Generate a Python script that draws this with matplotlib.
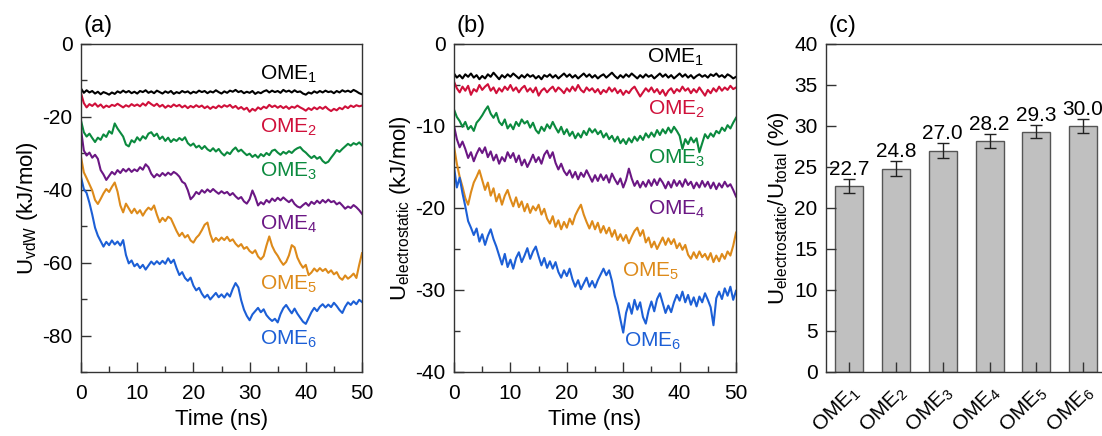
import numpy as np
import matplotlib
matplotlib.use('Agg')
import matplotlib.pyplot as plt
from matplotlib.ticker import MultipleLocator

plt.rcParams['font.family'] = ['Liberation Sans', 'DejaVu Sans']
plt.rcParams['mathtext.default'] = 'regular'
plt.rcParams['axes.unicode_minus'] = False
plt.rcParams['axes.linewidth'] = 1.0
plt.rcParams['axes.edgecolor'] = '#333333'

# time grid of the trajectories (ns), one frame every 0.5 ns
time = np.linspace(0, 50, 101)

names = ['OME$_1$', 'OME$_2$', 'OME$_3$', 'OME$_4$', 'OME$_5$', 'OME$_6$']
colors = ['#000000', '#d0103a', '#0b8a3e', '#6b1784', '#dd8a1a', '#1c5fd6']

# van der Waals interaction energy (kJ/mol)
vdw_1 = [-12.2, -13.4, -12.7, -13.3, -12.9, -13.6, -13.1, -13.8, -13.2, -13.5,
         -13.9, -13.3, -13.7, -13.0, -13.4, -12.8, -13.3, -12.9, -13.5, -13.1,
         -13.6, -12.9, -13.2, -12.7, -13.4, -13.0, -13.5, -12.8, -13.2, -13.6,
         -13.0, -13.4, -12.9, -13.7, -13.2, -13.5, -12.9, -13.3, -13.0, -13.6,
         -13.1, -13.4, -12.8, -13.2, -12.9, -13.5, -13.0, -13.3, -12.7, -13.2,
         -13.6, -13.0, -13.4, -12.8, -13.1, -12.6, -13.2, -12.9, -13.5, -13.1,
         -13.4, -12.9, -13.7, -13.2, -13.5, -13.0, -12.7, -13.3, -12.8, -13.2,
         -12.9, -13.4, -12.6, -13.1, -12.8, -13.3, -12.7, -13.2, -13.0, -13.6,
         -13.9, -13.3, -13.6, -13.0, -13.4, -12.9, -13.3, -12.8, -13.2, -13.0,
         -13.5, -12.9, -13.3, -12.7, -13.1, -12.8, -13.2, -12.6, -13.0, -13.5,
         -13.8]
vdw_2 = [-13.5, -16.2, -17.4, -16.5, -17.0, -16.3, -17.2, -16.6, -17.5, -16.9,
         -17.3, -16.7, -17.0, -16.4, -16.9, -17.4, -16.8, -17.2, -16.5, -17.0,
         -16.6, -17.1, -16.3, -16.9, -15.9, -16.5, -17.0, -16.4, -17.2, -16.7,
         -17.5, -16.9, -17.3, -16.6, -17.1, -16.7, -17.4, -16.9, -17.6, -17.0,
         -17.4, -16.8, -17.3, -16.9, -17.6, -17.1, -17.8, -17.2, -17.6, -16.9,
         -17.4, -16.8, -17.2, -16.7, -17.5, -17.0, -17.8, -17.3, -18.0, -17.5,
         -18.6, -17.8, -18.3, -17.4, -17.9, -17.2, -17.6, -16.7, -17.3, -16.9,
         -17.5, -17.0, -17.6, -17.1, -17.8, -17.2, -17.5, -16.9, -17.4, -17.8,
         -18.3, -17.6, -18.1, -17.4, -17.9, -17.3, -17.8, -17.2, -17.9, -18.4,
         -17.8, -18.2, -17.5, -17.9, -17.1, -17.6, -16.9, -17.3, -16.8, -17.1,
         -16.9]
vdw_3 = [-21.0, -24.2, -25.4, -24.6, -25.8, -26.9, -25.7, -26.3, -24.8, -25.5,
         -23.9, -24.6, -21.8, -23.2, -24.3, -25.4, -27.6, -28.1, -26.4, -27.0,
         -25.6, -26.5, -25.3, -26.0, -24.6, -24.2, -25.3, -24.6, -26.1, -25.4,
         -26.6, -25.7, -26.9, -26.1, -26.6, -25.8, -26.4, -25.6, -27.2, -27.9,
         -27.3, -28.4, -27.9, -28.8, -28.0, -28.9, -29.4, -28.6, -29.5, -28.8,
         -29.9, -30.6, -29.7, -30.2, -29.1, -28.4, -29.5, -29.0, -29.8, -30.5,
         -30.1, -31.0, -30.4, -31.2, -30.2, -30.8, -29.9, -30.5, -29.3, -29.0,
         -29.8, -30.4, -29.6, -30.1, -29.4, -29.9, -29.1, -28.6, -28.3, -29.2,
         -29.8, -30.6, -31.3, -30.7, -31.5, -31.0, -32.1, -32.7, -32.3, -31.2,
         -30.2, -29.1, -29.6, -28.8, -28.1, -27.4, -27.9, -27.2, -27.6, -27.0,
         -27.8]
vdw_4 = [-23.5, -29.2, -30.6, -29.8, -31.2, -30.4, -31.5, -34.6, -35.8, -37.3,
         -36.2, -35.1, -35.8, -34.6, -35.4, -34.3, -35.0, -34.2, -35.1, -34.4,
         -34.9, -33.8, -34.5, -33.0, -33.8, -35.6, -36.6, -35.7, -36.3, -35.4,
         -36.1, -35.3, -35.9, -35.1, -35.6, -36.4, -37.8, -38.3, -40.1, -42.6,
         -41.8, -40.6, -41.2, -40.1, -40.8, -39.9, -40.6, -39.8, -40.5, -41.1,
         -40.4, -41.0, -40.6, -41.5, -40.9, -41.8, -42.5, -42.0, -43.2, -43.8,
         -42.6, -40.2, -42.0, -44.3, -43.4, -44.0, -42.8, -43.5, -42.4, -43.1,
         -42.2, -42.9, -42.1, -42.8, -43.4, -42.7, -43.9, -44.6, -44.9, -44.2,
         -43.6, -44.4, -43.3, -43.9, -43.0, -43.7, -42.8, -43.5, -42.7, -43.4,
         -43.1, -44.0, -43.5, -44.3, -45.2, -44.6, -45.0, -44.2, -44.8, -45.6,
         -46.6]
vdw_5 = [-31.0, -35.2, -36.8, -38.5, -40.2, -42.8, -43.9, -42.5, -41.0, -39.8,
         -40.6, -39.2, -38.0, -40.5, -44.3, -46.2, -43.8, -45.1, -46.4, -45.2,
         -46.5, -45.6, -47.1, -45.8, -44.9, -45.5, -44.3, -46.8, -48.9, -47.7,
         -48.6, -47.4, -47.9, -49.6, -51.3, -52.7, -51.8, -53.1, -52.4, -53.9,
         -54.5, -53.2, -52.4, -51.1, -49.6, -49.0, -52.2, -54.3, -53.2, -54.0,
         -53.1, -53.8, -52.9, -54.1, -53.6, -54.8, -55.6, -54.9, -56.2, -55.7,
         -56.8, -57.4, -56.6, -58.3, -59.1, -58.2, -55.3, -52.8, -55.4, -57.0,
         -58.1, -59.5, -60.6, -59.8, -58.0, -55.2, -55.8, -58.6, -60.2, -61.4,
         -60.6, -63.4, -62.7, -61.6, -62.4, -61.5, -62.3, -61.7, -62.8, -62.1,
         -63.2, -62.6, -64.1, -64.7, -63.5, -64.4, -63.8, -63.0, -64.2, -60.6,
         -57.4]
vdw_6 = [-36.5, -39.8, -40.9, -43.6, -46.8, -50.4, -52.6, -54.1, -55.6, -54.3,
         -55.2, -53.9, -55.0, -54.2, -55.3, -53.8, -57.9, -60.2, -59.4, -61.0,
         -60.3, -61.5, -60.6, -61.9, -60.8, -59.7, -60.5, -59.6, -60.4, -59.5,
         -60.3, -58.8, -60.1, -59.2, -61.5, -63.4, -62.6, -64.2, -65.0, -64.1,
         -66.3, -67.6, -66.9, -68.5, -69.6, -68.8, -70.1, -69.2, -68.3, -69.5,
         -68.7, -69.6, -68.4, -69.3, -67.2, -65.6, -66.8, -70.3, -72.9, -74.6,
         -75.8, -74.2, -73.3, -72.4, -73.6, -72.8, -74.4, -75.3, -76.0, -75.4,
         -76.4, -74.1, -72.5, -71.6, -72.8, -73.9, -72.6, -74.0, -75.1, -76.2,
         -76.8, -75.2, -73.6, -72.4, -73.3, -72.1, -71.4, -72.3, -71.5, -72.2,
         -71.0, -71.9, -73.0, -73.8, -72.1, -70.9, -71.6, -70.6, -71.4, -70.2,
         -70.8]

# electrostatic interaction energy (kJ/mol)
ele_1 = [-3.6, -4.1, -3.8, -4.2, -3.7, -4.0, -3.6, -4.1, -3.8, -4.3,
         -3.9, -4.2, -3.7, -4.0, -3.5, -3.9, -4.3, -3.8, -4.1, -3.7,
         -4.0, -3.6, -3.9, -4.2, -3.8, -4.1, -3.7, -4.0, -3.8, -4.2,
         -3.9, -4.3, -3.8, -4.0, -3.7, -4.1, -3.8, -4.2, -3.9, -3.6,
         -4.0, -3.7, -4.1, -3.8, -4.2, -3.9, -3.6, -4.0, -3.7, -4.1,
         -3.8, -4.2, -3.9, -3.7, -4.1, -3.8, -3.5, -3.9, -4.2, -3.8,
         -4.1, -3.7, -4.0, -3.6, -3.9, -4.2, -3.8, -4.1, -3.7, -4.0,
         -3.8, -4.2, -3.9, -3.6, -4.0, -3.7, -4.1, -3.8, -4.2, -3.9,
         -3.6, -4.0, -3.7, -4.1, -3.8, -4.2, -3.9, -3.7, -4.0, -3.8,
         -4.1, -3.7, -3.9, -3.6, -4.0, -3.8, -4.1, -3.7, -3.9, -4.2,
         -4.0]
ele_2 = [-4.6, -5.4, -5.9, -5.2, -5.7, -5.1, -6.2, -5.5, -5.8, -5.0,
         -5.6, -5.2, -4.9, -5.7, -5.3, -6.0, -5.4, -5.8, -5.2, -5.6,
         -5.0, -5.7, -5.3, -5.9, -5.4, -5.1, -5.8, -5.4, -5.9, -5.3,
         -6.3, -5.7, -5.4, -5.9, -5.5, -5.2, -5.8, -5.3, -5.6, -6.0,
         -5.4, -5.8, -5.2, -5.7, -5.0, -5.6, -5.9, -5.3, -5.7, -5.4,
         -5.9, -5.5, -6.1, -5.6, -5.9, -5.3, -5.8, -5.4, -6.0, -5.6,
         -6.2, -5.7, -6.0, -5.5, -5.2, -5.8, -6.4, -5.9, -5.4, -5.8,
         -5.3, -5.9, -5.5, -6.1, -5.6, -6.3, -5.7, -5.4, -6.0, -5.5,
         -5.8, -5.2, -5.7, -5.4, -6.0, -5.5, -5.9, -5.3, -5.8, -6.3,
         -5.6, -6.0, -5.4, -5.8, -5.2, -5.7, -5.3, -5.6, -5.1, -5.5,
         -5.3]
ele_3 = [-8.0, -8.9, -9.4, -10.1, -9.5, -10.4, -10.0, -10.6, -9.6, -9.2,
         -8.7, -8.1, -7.6, -8.5, -9.0, -8.4, -9.5, -9.9, -9.2, -10.3,
         -9.8, -10.4, -9.5, -10.0, -9.2, -9.7, -9.4, -10.2, -9.6, -10.5,
         -10.9, -10.1, -10.6, -9.8, -10.3, -9.5, -10.2, -10.8, -10.1, -11.0,
         -10.4, -11.2, -10.7, -11.5, -10.9, -11.4, -10.6, -11.1, -10.3, -10.8,
         -10.4, -11.0, -10.6, -11.4, -10.9, -11.6, -11.2, -11.9, -11.3, -12.1,
         -11.6, -12.2, -11.5, -12.0, -11.3, -11.8, -11.2, -11.7, -10.9, -11.4,
         -10.8, -11.3, -10.5, -11.1, -10.4, -10.9, -10.2, -10.8, -10.1, -10.6,
         -11.2, -12.8, -11.6, -12.2, -11.4, -12.0, -11.5, -13.2, -12.1, -11.0,
         -11.5, -10.9, -11.3, -10.6, -10.9, -10.2, -10.6, -9.9, -10.3, -9.6,
         -9.0]
ele_4 = [-10.0, -11.6, -12.6, -11.9, -12.8, -13.9, -13.2, -14.3, -13.4, -12.7,
         -13.3, -12.6, -13.8, -13.1, -14.2, -13.5, -14.6, -13.8, -14.3, -13.2,
         -13.9, -13.3, -14.4, -13.6, -14.8, -14.1, -15.0, -14.3, -13.5, -14.4,
         -13.8, -14.6, -13.5, -13.0, -13.9, -13.2, -14.5, -15.3, -14.6, -15.5,
         -16.0, -15.4, -16.3, -15.6, -16.5, -15.7, -16.2, -15.4, -16.1, -16.8,
         -16.0, -16.7, -15.9, -16.6, -16.0, -16.9, -15.8, -16.5, -17.1, -16.4,
         -17.5, -16.6, -15.2, -16.4, -17.3, -16.7, -17.5, -16.8, -17.4, -16.6,
         -17.3, -16.5, -17.2, -16.4, -16.9, -17.6, -16.8, -17.5, -16.6, -17.3,
         -16.7, -17.4, -16.5, -17.2, -16.8, -17.6, -16.9, -17.5, -16.7, -17.4,
         -16.8, -17.6, -16.9, -17.7, -17.0, -17.5, -16.8, -17.4, -17.1, -17.8,
         -18.6]
ele_5 = [-12.5, -14.6, -16.2, -17.4, -18.8, -19.6, -18.1, -16.9, -16.2, -15.4,
         -16.6, -17.8, -16.9, -18.5, -17.6, -19.2, -18.3, -19.6, -18.5, -17.8,
         -18.9, -19.8, -18.7, -19.9, -19.2, -20.4, -19.5, -20.6, -19.8, -20.3,
         -19.6, -20.8, -20.1, -21.3, -21.9, -21.0, -22.3, -21.5, -22.6, -21.7,
         -22.4, -21.3, -22.0, -20.9, -20.2, -19.6, -20.8, -21.7, -22.5, -21.6,
         -22.6, -21.8, -23.0, -22.2, -23.1, -22.4, -23.5, -22.7, -23.9, -23.2,
         -24.0, -23.3, -24.3, -23.5, -22.8, -22.4, -23.4, -22.7, -24.2, -23.6,
         -24.8, -24.1, -25.0, -24.3, -23.6, -24.5, -23.7, -24.4, -23.8, -24.9,
         -24.3, -25.1, -24.5, -25.7, -26.2, -25.4, -26.1, -25.3, -26.0, -25.6,
         -26.3, -25.5, -26.6, -25.8, -26.5, -25.6, -26.2, -25.3, -25.8, -24.6,
         -23.0]
ele_6 = [-15.0, -17.5, -16.3, -18.2, -19.8, -21.6, -22.4, -23.3, -22.5, -24.1,
         -23.2, -24.5, -23.4, -22.6, -23.8, -24.7, -25.8, -26.9, -25.6, -27.2,
         -26.3, -27.4, -26.1, -25.4, -26.6, -25.8, -24.9, -26.2, -25.3, -24.7,
         -25.9, -27.0, -26.1, -27.3, -26.5, -27.4, -26.6, -27.8, -28.5, -27.6,
         -28.3, -27.4, -28.7, -29.6, -28.8, -29.9, -29.2, -28.5, -29.6, -28.9,
         -29.7, -28.8, -28.1, -27.4, -28.2, -27.6, -28.9, -30.7, -31.9, -33.6,
         -35.2, -32.8, -31.6, -32.9, -31.2, -32.4, -31.5, -33.3, -34.1, -32.5,
         -31.4, -32.6, -31.1, -30.4, -31.6, -32.8, -31.9, -32.7, -31.5, -30.6,
         -31.3, -30.2, -31.5, -30.6, -31.8, -30.9, -32.0, -30.8, -31.5, -30.4,
         -31.2, -32.1, -34.3, -31.0, -30.2, -31.1, -29.8, -30.7, -29.6, -31.2,
         -30.1]

# share of electrostatic energy in the total interaction energy (%)
ratio = [22.7, 24.8, 27.0, 28.2, 29.3, 30.0]
ratio_err = [0.85, 0.9, 0.9, 0.85, 0.8, 0.85]

vdw = [vdw_1, vdw_2, vdw_3, vdw_4, vdw_5, vdw_6]
ele = [ele_1, ele_2, ele_3, ele_4, ele_5, ele_6]

# label positions (time, energy) for the curve names
vdw_lab = [(31.8, -8.4), (31.8, -23.0), (31.8, -35.0), (31.8, -49.6), (31.8, -66.0), (31.8, -81.1)]
ele_lab = [(34.2, -1.6), (34.4, -8.0), (34.4, -13.9), (34.4, -20.2), (29.8, -27.7), (30.1, -36.3)]

fig = plt.figure(figsize=(11.02, 4.36), dpi=100)
ax1 = fig.add_axes([0.0735, 0.1468, 0.255, 0.7523])
ax2 = fig.add_axes([0.412, 0.1468, 0.2559, 0.7523])
ax3 = fig.add_axes([0.7495, 0.1468, 0.2545, 0.7523])


def style(ax):
    ax.tick_params(which='both', direction='in', labelsize=15, pad=6, colors='#333333', labelcolor='black')
    ax.tick_params(which='major', length=7, width=1)
    ax.tick_params(which='minor', length=4, width=1)


for ax, data, labs in [(ax1, vdw, vdw_lab), (ax2, ele, ele_lab)]:
    for y, c, n, (tx, ty) in zip(data, colors, names, labs):
        ax.plot(time, y, color=c, lw=1.5)
        ax.text(tx, ty, n, color=c, fontsize=15, va='center', ha='left')
    ax.set_xlim(0, 50)
    ax.xaxis.set_major_locator(MultipleLocator(10))
    ax.xaxis.set_minor_locator(MultipleLocator(5))
    ax.set_xlabel('Time (ns)', fontsize=16, labelpad=4)
    style(ax)
    ax.tick_params(axis='x', which='both', pad=9)

ax1.set_ylim(-90, 0)
ax1.yaxis.set_major_locator(MultipleLocator(20))
ax1.yaxis.set_minor_locator(MultipleLocator(10))
ax1.set_ylabel('U$_{vdW}$ (kJ/mol)', fontsize=16, labelpad=2)

ax2.set_ylim(-40, 0)
ax2.yaxis.set_major_locator(MultipleLocator(10))
ax2.yaxis.set_minor_locator(MultipleLocator(5))
ax2.set_ylabel('U$_{electrostatic}$ (kJ/mol)', fontsize=16, labelpad=2)

pos = np.arange(1, len(ratio) + 1)
ax3.bar(pos, ratio, width=0.6, color='#c0c0c0', edgecolor='#555555', linewidth=1,
        yerr=ratio_err, capsize=4.5, error_kw=dict(ecolor='#222222', elinewidth=1, capthick=1))
for x, v, e in zip(pos, ratio, ratio_err):
    ax3.annotate(f'{v:.1f}', (x, v + e), xytext=(0, 0), textcoords='offset points',
                 ha='center', va='bottom', fontsize=15)
ax3.set_xlim(0.5, 6.5)
ax3.set_ylim(0, 40)
ax3.yaxis.set_major_locator(MultipleLocator(5))
ax3.set_xticks(pos)
ax3.set_xticklabels(names, rotation=45, fontsize=14, ha='right', va='top', rotation_mode='anchor')
ax3.set_ylabel('U$_{electrostatic}$/U$_{total}$ (%)', fontsize=16, labelpad=2)
style(ax3)
ax3.tick_params(axis='x', pad=7)

for ax, lab in [(ax1, '(a)'), (ax2, '(b)'), (ax3, '(c)')]:
    ax.text(0.01, 1.02, lab, transform=ax.transAxes, fontsize=17, ha='left', va='bottom')

plt.savefig('out.png', dpi=100)
